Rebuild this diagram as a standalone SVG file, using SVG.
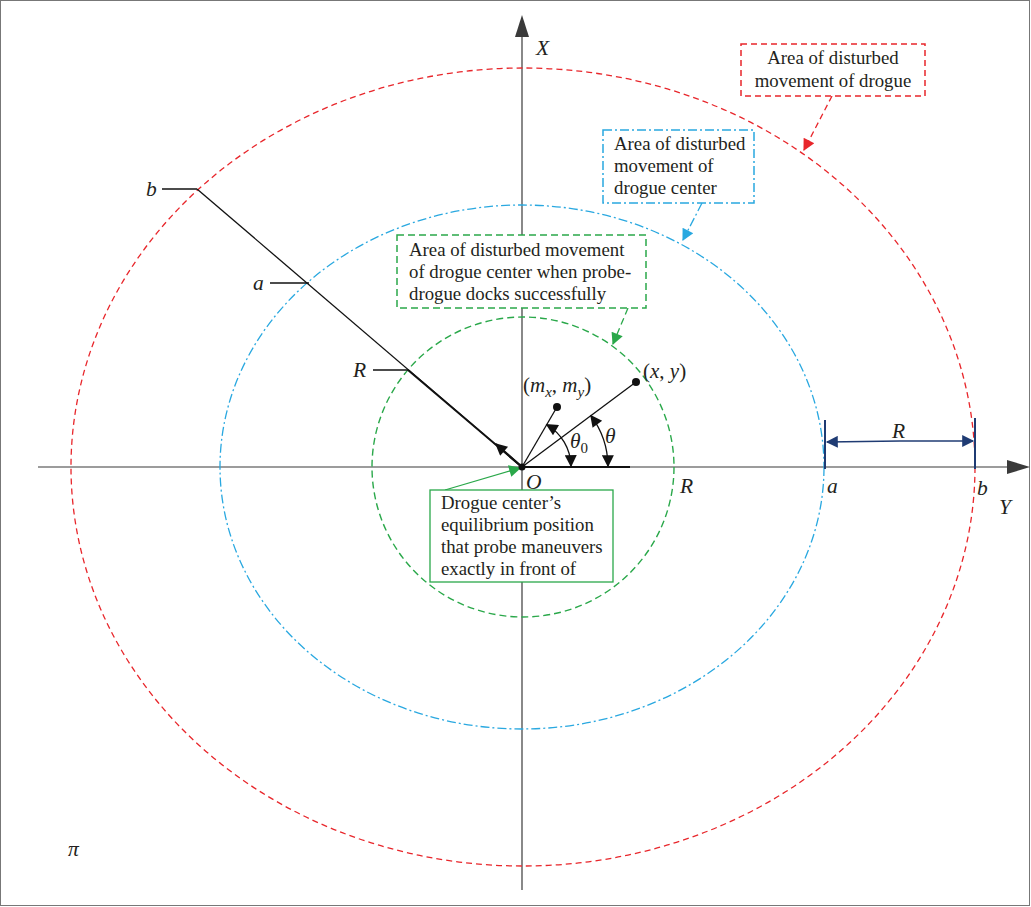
<svg xmlns="http://www.w3.org/2000/svg" width="1031" height="907" viewBox="0 0 1031 907">
<style>
text{font-family:"Liberation Serif","Times New Roman",serif;font-size:18.8px;fill:#231f20}
.it{font-style:italic;font-size:21.5px}
.lbl{font-size:21px}
.ax{stroke:#3a3a3a;stroke-width:1.2;fill:none}
.blk{stroke:#111;stroke-width:1.3;fill:none}
.red{stroke:#e8262b;stroke-width:1.3;fill:none;stroke-dasharray:6 4}
.blue{stroke:#29a8e0;stroke-width:1.3;fill:none;stroke-dasharray:9 3 2 3}
.grn{stroke:#2aa84a;stroke-width:1.4;fill:none;stroke-dasharray:7 4}
.navy{stroke:#1f3b73;stroke-width:2;fill:none}
</style>
<defs>
<marker id="ahL" viewBox="0 0 10 10" refX="9" refY="5" markerWidth="14" markerHeight="12" markerUnits="userSpaceOnUse" orient="auto-start-reverse"><path d="M0,0L10,5L0,10z" fill="#111"/></marker>
<marker id="ahR" viewBox="0 0 10 10" refX="9" refY="5" markerWidth="14" markerHeight="12" markerUnits="userSpaceOnUse" orient="auto"><path d="M0,0L10,5L0,10z" fill="#e8262b"/></marker>
<marker id="ahB" viewBox="0 0 10 10" refX="9" refY="5" markerWidth="14" markerHeight="12" markerUnits="userSpaceOnUse" orient="auto"><path d="M0,0L10,5L0,10z" fill="#29a8e0"/></marker>
<marker id="ahG" viewBox="0 0 10 10" refX="9" refY="5" markerWidth="14" markerHeight="12" markerUnits="userSpaceOnUse" orient="auto"><path d="M0,0L10,5L0,10z" fill="#2aa84a"/></marker>
<marker id="ahN" viewBox="0 0 10 10" refX="9" refY="5" markerWidth="14" markerHeight="12" markerUnits="userSpaceOnUse" orient="auto"><path d="M0,0L10,5L0,10z" fill="#1f3b73"/></marker>
</defs>
<rect x="0.5" y="0.5" width="1029" height="905" fill="#fff" stroke="#777" stroke-width="1"/>

<g id="axes">
<line class="ax" x1="38" y1="467" x2="1010" y2="467"/>
<path d="M1030,467L1007,460L1007,474z" fill="#3a3a3a"/>
<line class="ax" x1="522" y1="890" x2="522" y2="35"/>
<path d="M522,15L515,37L529,37z" fill="#3a3a3a"/>
<text x="536" y="55" class="it">X</text>
<text x="999" y="514" class="it">Y</text>
<text x="68" y="856" class="it">π</text>
</g>

<g id="regions">
<ellipse id="red-area" class="red" cx="523" cy="467" rx="452" ry="399"/>
<ellipse id="blue-area" class="blue" cx="522" cy="467" rx="302" ry="262"/>
<ellipse id="green-area" class="grn" cx="523" cy="467" rx="151" ry="150"/>
</g>

<g id="connectors">
<line class="blk" x1="522" y1="467" x2="197" y2="189"/>
<line x1="522" y1="467" x2="408" y2="370" stroke="#111" stroke-width="2"/>
<line x1="522" y1="467" x2="496" y2="444" stroke="#111" stroke-width="2" marker-end="url(#ahL)"/>
<line class="blk" x1="162" y1="189" x2="197" y2="189"/>
<line class="blk" x1="270" y1="283" x2="309" y2="283"/>
<line class="blk" x1="373" y1="370" x2="408" y2="370"/>
<line class="blk" x1="522" y1="467" x2="557" y2="407"/>
<line class="blk" x1="522" y1="467" x2="636" y2="382"/>
<line x1="522" y1="467" x2="630" y2="467" stroke="#111" stroke-width="2.2"/>
<path d="M546.7,424.7 A49,49 0 0 1 571,466" fill="none" stroke="#111" stroke-width="1.3" marker-start="url(#ahL)" marker-end="url(#ahL)"/>
<path d="M590.9,415.6 A86,86 0 0 1 608,466" fill="none" stroke="#111" stroke-width="1.3" marker-start="url(#ahL)" marker-end="url(#ahL)"/>
<line class="navy" x1="825" y1="420" x2="825" y2="469"/>
<line class="navy" x1="975" y1="418" x2="975" y2="469"/>
<line x1="900" y1="441" x2="827" y2="442" stroke="#1f3b73" stroke-width="1.5" marker-end="url(#ahN)"/>
<line x1="900" y1="441" x2="973" y2="441" stroke="#1f3b73" stroke-width="1.5" marker-end="url(#ahN)"/>
<line x1="832" y1="96" x2="804" y2="150" stroke="#e8262b" stroke-width="1.3" stroke-dasharray="6 4" marker-end="url(#ahR)"/>
<line x1="702" y1="203" x2="683" y2="240" stroke="#29a8e0" stroke-width="1.3" stroke-dasharray="9 3 2 3" marker-end="url(#ahB)"/>
<line x1="628" y1="308" x2="613" y2="344" stroke="#2aa84a" stroke-width="1.3" stroke-dasharray="7 4" marker-end="url(#ahG)"/>
<line x1="445" y1="490" x2="520" y2="468" stroke="#2aa84a" stroke-width="1.3" marker-end="url(#ahG)"/>
</g>

<g id="points">
<circle cx="522" cy="467" r="3.5" fill="#111"/>
<circle cx="557" cy="407" r="4" fill="#111"/>
<circle cx="636" cy="382" r="4" fill="#111"/>
<text x="523" y="392" class="lbl"><tspan>(</tspan><tspan font-style="italic">m</tspan><tspan font-style="italic" font-size="15" dy="5">x</tspan><tspan dy="-5">, </tspan><tspan font-style="italic">m</tspan><tspan font-style="italic" font-size="15" dy="5">y</tspan><tspan dy="-5">)</tspan></text>
<text x="643" y="378" class="lbl"><tspan>(</tspan><tspan font-style="italic">x</tspan><tspan>, </tspan><tspan font-style="italic">y</tspan><tspan>)</tspan></text>
<text x="570" y="448" class="it">θ<tspan font-size="15" dy="5" font-style="normal">0</tspan></text>
<text x="605" y="443" class="it">θ</text>
<text x="526" y="489" class="it">O</text>
<text x="680" y="493" class="it">R</text>
<text x="146" y="196" class="it">b</text>
<text x="253" y="290" class="it">a</text>
<text x="353" y="377" class="it">R</text>
<text x="892" y="438" class="it">R</text>
<text x="827" y="493" class="it">a</text>
<text x="977" y="495" class="it">b</text>
</g>

<g id="box-red">
<rect x="741" y="44" width="184" height="52" fill="#fff" stroke="#e8262b" stroke-width="1.5" stroke-dasharray="6 4"/>
<text x="833" y="64" text-anchor="middle">Area of disturbed</text>
<text x="833" y="87" text-anchor="middle">movement of drogue</text>
</g>

<g id="box-blue">
<rect x="603" y="130" width="151" height="73" fill="#fff" stroke="#29a8e0" stroke-width="1.5" stroke-dasharray="9 3 2 3"/>
<text x="614" y="150">Area of disturbed</text>
<text x="614" y="172">movement of</text>
<text x="614" y="194">drogue center</text>
</g>

<g id="box-green">
<rect x="397" y="235" width="249" height="73" fill="#fff" stroke="#2aa84a" stroke-width="1.5" stroke-dasharray="7 4"/>
<text x="409" y="256">Area of disturbed movement</text>
<text x="409" y="278">of drogue center when probe-</text>
<text x="409" y="300">drogue docks successfully</text>
</g>

<g id="box-center">
<rect x="430" y="490" width="183" height="92" fill="#fff" stroke="#2aa84a" stroke-width="1.3"/>
<text x="441" y="509">Drogue center’s</text>
<text x="441" y="531">equilibrium position</text>
<text x="441" y="553">that probe maneuvers</text>
<text x="441" y="575">exactly in front of</text>
</g>
</svg>
